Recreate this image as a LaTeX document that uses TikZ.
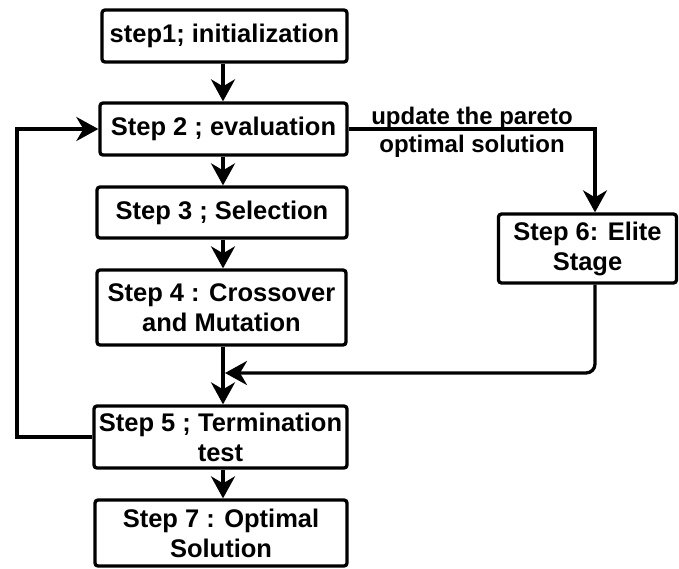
\documentclass[tikz,border=0pt]{standalone}
\usepackage{fontspec}
\setmainfont{Liberation Sans}
\usetikzlibrary{arrows.meta}
\begin{document}
\begin{tikzpicture}[x=1pt,y=-1pt,
  stepbox/.style={draw, line width=3.3pt, rounded corners=3pt, align=center,
    inner sep=0pt, font=\fontsize{25.5}{30}\selectfont\bfseries},
  conn/.style={line width=3.3pt, -{Stealth[length=22pt,width=24pt,inset=7pt]}}]
\useasboundingbox (0,0) rectangle (679,568);
\node[stepbox, minimum width=245pt, minimum height=52pt] (s1) at (224.5,36) {step1; initialization};
\node[stepbox, minimum width=247pt, minimum height=52pt] (s2) at (223.5,129) {Step 2 ; evaluation};
\node[stepbox, minimum width=250pt, minimum height=51pt] (s3) at (222,212.5) {Step 3 ; Selection};
\node[stepbox, minimum width=249pt, minimum height=75pt] (s4) at (221.5,307.5) {Step 4 : Crossover\\and Mutation};
\node[stepbox, minimum width=253pt, minimum height=62pt] (s5) at (220.5,437) {Step 5 ; Termination\\test};
\node[stepbox, minimum width=252pt, minimum height=66pt] (s7) at (221,533) {Step 7 : Optimal\\Solution};
\node[stepbox, minimum width=178pt, minimum height=69pt] (s6) at (587.5,248.5) {Step 6: Elite\\Stage};
\node[font=\fontsize{24}{28}\selectfont\bfseries, align=center] (lbl) at (472,132) {update the pareto\\optimal solution};
\coordinate (c1) at (595,129);
\coordinate (c2) at (595,373);
\coordinate (m) at (223,373);
\coordinate (l1) at (17,437);
\coordinate (l2) at (17,129);
\draw[conn] (s1.south -| 223,0) -- (s2.north -| 223,0);
\draw[conn] (s2.south -| 223,0) -- (s3.north -| 223,0);
\draw[conn] (s3.south -| 223,0) -- (s4.north -| 223,0);
\draw[conn] (s4.south -| 223,0) -- (s5.north -| 223,0);
\draw[conn] (s5.south -| 223,0) -- (s7.north -| 223,0);
\draw[conn] (s2.east) -- (c1) -- (s6.north -| c1);
\draw[conn, rounded corners=9pt] (s6.south -| c2) -- (c2) -- ([xshift=2pt]m);
\draw[conn] (s5.west) -- (l1) -- (l2) -- (s2.west);
\end{tikzpicture}
\end{document}
